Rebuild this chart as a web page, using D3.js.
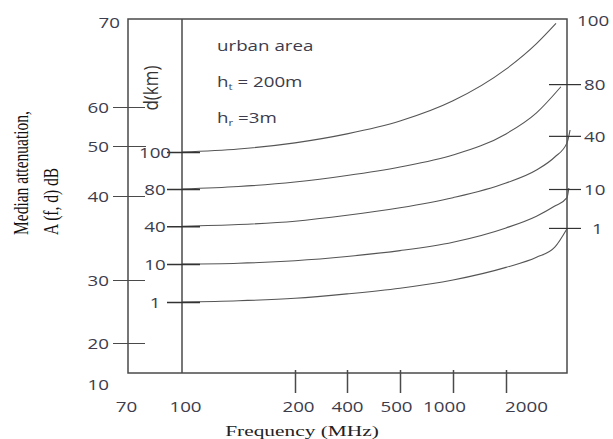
<!DOCTYPE html>
<html>
<head>
<meta charset="utf-8">
<script src="https://cdn.jsdelivr.net/npm/d3@7"></script>
<style>
  body { margin: 0; background: #fff; }
</style>
</head>
<body>
<div id="chart"></div>
<script>
// Okumura-style median attenuation curves, urban area, ht = 200m, hr = 3m

const freqTicks = [70, 100, 200, 400, 500, 1000, 2000];
const attTicks = [10, 20, 30, 40, 50, 60, 70];
const distances = ["100", "80", "40", "10", "1"];

// [frequency MHz, attenuation dB]
const curve100 = [[100, 48.8], [150, 49.4], [200, 50.8], [400, 53.1], [500, 56.4], [1000, 60.7], [2000, 64.3], [2500, 67.2], [2820, 69.5]];
const curve80 = [[100, 41.4], [150, 41.9], [200, 42.8], [400, 44.1], [500, 45.8], [1000, 48.2], [2000, 53.1], [2500, 58.5], [2900, 62.3]];
const curve40 = [[100, 36.4], [150, 36.6], [200, 37.0], [400, 37.7], [500, 38.6], [1000, 39.8], [2000, 42.6], [2500, 45.2], [2800, 47.8], [3000, 50.8], [3050, 54.1]];
const curve10 = [[100, 31.9], [150, 32.0], [200, 32.3], [400, 32.8], [500, 33.5], [1000, 34.5], [2000, 36.2], [2500, 37.6], [2800, 38.8], [3000, 39.8], [3030, 41.6]];
const curve1 = [[100, 26.5], [150, 26.7], [200, 27.1], [400, 27.8], [500, 28.7], [1000, 30.0], [2000, 31.5], [2500, 32.7], [2800, 33.9], [3000, 36.1]];

// right-hand d(km) labels sit near the curve ends
const endLevels = [69.9, 62.6, 52.6, 41.4, 36.2];

const curves = [curve100, curve80, curve40, curve10, curve1];

const width = 613;
const height = 439;
const SX = 1.25; // the scanned figure is stretched sideways
const ink = "#3c3c4c";
const lineInk = "#4a4a4a";

// the original axes are hand drawn and not evenly spaced, so piecewise scales
const x = d3.scaleLinear()
  .domain([70, 100, 200, 400, 500, 1000, 2000, 3000])
  .range([128, 182, 295, 347, 400, 453, 506, 567]);

const y = d3.scaleLinear()
  .domain(attTicks)
  .range([373, 343, 280, 196, 146, 107, 19]);

const svg = d3.select("#chart")
  .append("svg")
  .attr("width", width)
  .attr("height", height)
  .style("font-family", "'Open Sans', sans-serif");

svg.append("rect").attr("width", width).attr("height", height).attr("fill", "#fff");

// frame
svg.append("rect")
  .attr("x", x(70))
  .attr("y", y(70))
  .attr("width", x(3000) - x(70))
  .attr("height", y(10) - y(70))
  .attr("fill", "none")
  .attr("stroke", lineInk)
  .attr("stroke-width", 1.5);

// inner line at 100 MHz
svg.append("line")
  .attr("x1", x(100)).attr("x2", x(100))
  .attr("y1", y(70)).attr("y2", y(10))
  .attr("stroke", lineInk)
  .attr("stroke-width", 1.5);

// left attenuation axis
const leftNudge = { 70: [11, 3], 10: [0, 11] };
const leftAxis = d3.axisLeft(y).tickValues(attTicks).tickSize(0).tickFormat(d3.format("d"));
const gLeft = svg.append("g")
  .attr("transform", `translate(${x(70)},0)`)
  .attr("color", ink)
  .call(leftAxis);
gLeft.select(".domain").remove();
gLeft.selectAll(".tick line")
  .attr("stroke", lineInk)
  .attr("x1", -15)
  .attr("x2", d => d === 50 ? 18 : 17)
  .filter(d => d === 10 || d === 70).remove();
gLeft.selectAll(".tick text")
  .attr("x", null)
  .attr("dy", "0.35em")
  .attr("text-anchor", "end")
  .attr("font-size", 15)
  .attr("font-family", "'Open Sans', sans-serif")
  .attr("transform", d => {
    const n = leftNudge[d] || [0, 0];
    return `translate(${-19 + n[0]},${n[1]}) scale(${SX},1)`;
  });

// bottom frequency axis
const bottomNudge = { 70: -2, 100: 3, 200: 3, 400: 0, 500: -4, 1000: -9, 2000: 20 };
const bottomAxis = d3.axisBottom(x).tickValues(freqTicks).tickSize(20).tickFormat(d3.format("d"));
const gBottom = svg.append("g")
  .attr("transform", `translate(0,${y(10)})`)
  .attr("color", ink)
  .call(bottomAxis);
gBottom.select(".domain").remove();
gBottom.selectAll(".tick line")
  .attr("stroke", lineInk)
  .attr("stroke-width", 1.5)
  .attr("y1", -3)
  .filter(d => d === 70 || d === 100).remove();
gBottom.selectAll(".tick text")
  .attr("y", null)
  .attr("dy", "0.35em")
  .attr("font-size", 15)
  .attr("font-family", "'Open Sans', sans-serif")
  .attr("transform", d => `translate(${bottomNudge[d] || 0},34) scale(${SX},1)`);

// curves
const line = d3.line()
  .x(d => x(d[0]))
  .y(d => y(d[1]))
  .curve(d3.curveMonotoneX);

svg.append("g")
  .selectAll("path")
  .data(curves)
  .join("path")
  .attr("d", line)
  .attr("fill", "none")
  .attr("stroke", "#555")
  .attr("stroke-width", 1.1);

// d(km) labels where the curves start
const startAxis = d3.axisLeft(y)
  .tickValues(curves.map(c => c[0][1]))
  .tickSize(0)
  .tickFormat((d, i) => distances[i]);
const gStart = svg.append("g")
  .attr("transform", `translate(${x(100)},0)`)
  .attr("color", ink)
  .call(startAxis);
gStart.select(".domain").remove();
gStart.selectAll(".tick line")
  .attr("stroke", "#333")
  .attr("stroke-width", 1.6)
  .attr("x1", -15)
  .attr("x2", 18);
gStart.selectAll(".tick text")
  .attr("x", null)
  .attr("dy", "0.35em")
  .attr("text-anchor", "middle")
  .attr("font-size", 15)
  .attr("font-family", "'Open Sans', sans-serif")
  .attr("transform", `translate(-27,0) scale(${SX},1)`);

// d(km) labels on the right edge
const endNudge = { 0: -7, 4: 8 };
const endAxis = d3.axisRight(y)
  .tickValues(endLevels)
  .tickSize(0)
  .tickFormat((d, i) => distances[i]);
const gEnd = svg.append("g")
  .attr("transform", `translate(${x(3000)},0)`)
  .attr("color", ink)
  .call(endAxis);
gEnd.select(".domain").remove();
gEnd.selectAll(".tick line")
  .attr("stroke", "#333")
  .attr("stroke-width", 1.2)
  .attr("x1", -18)
  .attr("x2", 14)
  .filter((d, i) => i === 0).remove();
gEnd.selectAll(".tick text")
  .attr("x", null)
  .attr("dy", "0.35em")
  .attr("text-anchor", "start")
  .attr("font-size", 15)
  .attr("font-family", "'Open Sans', sans-serif")
  .attr("transform", (d, i) => `translate(${17 + (endNudge[i] || 0)},0) scale(${SX},1)`);

// d(km) heading, rotated
svg.append("text")
  .attr("transform", `translate(158,88) scale(1.2,1) rotate(-90)`)
  .attr("text-anchor", "middle")
  .attr("font-size", 17)
  .attr("fill", "#333")
  .text("d(km)");

// conditions
const note = svg.append("g").attr("fill", ink).attr("font-size", 15);
note.append("text")
  .attr("transform", `translate(217,51) scale(${SX},1)`)
  .text("urban area");

const ht = note.append("text").attr("transform", `translate(217,87) scale(${SX},1)`);
ht.append("tspan").text("h");
ht.append("tspan").attr("font-size", 9).attr("dy", 3).text("t");
ht.append("tspan").attr("dy", -3).text(" = 200m");

const hr = note.append("text").attr("transform", `translate(217,123) scale(${SX},1)`);
hr.append("tspan").text("h");
hr.append("tspan").attr("font-size", 9).attr("dy", 3).text("r");
hr.append("tspan").attr("dy", -3).text(" =3m");

// axis titles
svg.append("text")
  .attr("transform", `translate(28,235) scale(1.4,1) rotate(-90)`)
  .attr("font-family", "'Liberation Serif', 'Times New Roman', serif")
  .attr("font-size", 15.5)
  .attr("fill", "#111")
  .text("Median attenuation,");

svg.append("text")
  .attr("transform", `translate(58,235) scale(1.4,1) rotate(-90)`)
  .attr("font-family", "'Liberation Serif', 'Times New Roman', serif")
  .attr("font-size", 15.5)
  .attr("fill", "#111")
  .text("A (f, d) dB");

svg.append("text")
  .attr("transform", `translate(302,436) scale(1.38,1)`)
  .attr("text-anchor", "middle")
  .attr("font-family", "'Liberation Serif', 'Times New Roman', serif")
  .attr("font-size", 15.5)
  .attr("fill", "#222")
  .text("Frequency (MHz)");
</script>
</body>
</html>
